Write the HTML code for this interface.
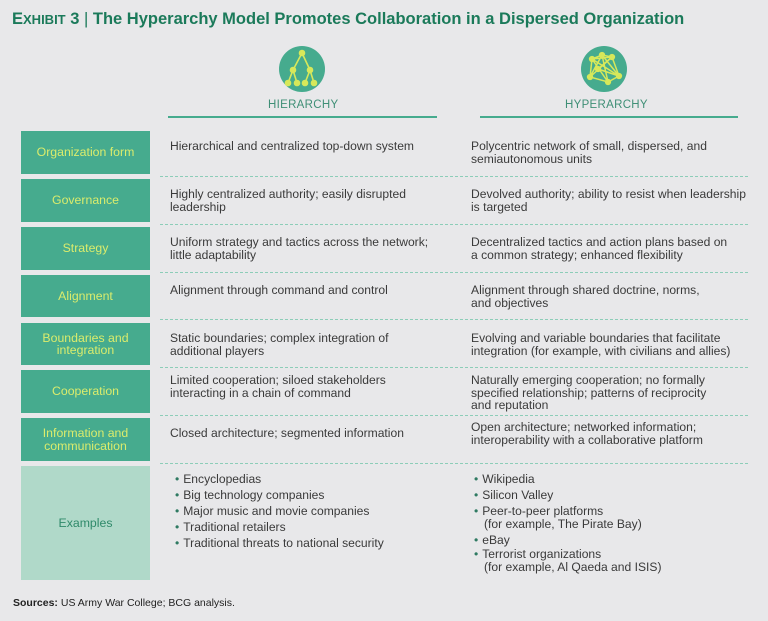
<!DOCTYPE html>
<html><head><meta charset="utf-8"><style>
body{margin:0;width:768px;height:621px;background:#e8e8ea;font-family:"Liberation Sans",sans-serif;position:relative;overflow:hidden}
.a{position:absolute;white-space:nowrap}
.t{font-size:12.1px;line-height:12.5px;color:#3a3a3a}
.box{position:absolute;left:21px;width:129px;background:#46ab8e;color:#dbec6c;font-size:12.3px;line-height:12.5px;text-align:center;display:flex;align-items:center;justify-content:center}
.d{position:absolute;left:160px;width:588px;border-top:1px dashed #8ccdb8}
.h{position:absolute;font-size:11.5px;color:#3f8f76;letter-spacing:0.3px}
ul{margin:0;padding:0;list-style:none}
li::before{content:"•";color:#2f7a62;margin-right:4px}
</style></head><body>
<div class="a" style="left:12px;top:10px;font-size:16.5px;font-weight:bold;color:#1b7a5a">E<span style="font-size:13px">XHIBIT</span> 3 <span style="font-weight:normal">|</span> The Hyperarchy Model Promotes Collaboration in a Dispersed Organization</div>
<svg class="a" style="left:278px;top:45px" width="48" height="48"><circle cx="24" cy="24" r="23" fill="#46ab8e"/>
<g stroke="#d7e85a" stroke-width="1.6" fill="#d7e85a"><line x1="24" y1="8" x2="15" y2="25"/><line x1="24" y1="8" x2="32" y2="25"/><line x1="15" y1="25" x2="10" y2="38"/><line x1="15" y1="25" x2="19" y2="38"/><line x1="32" y1="25" x2="27" y2="38"/><line x1="32" y1="25" x2="36" y2="38"/>
<circle cx="24" cy="8" r="2.5"/><circle cx="15" cy="25" r="2.5"/><circle cx="32" cy="25" r="2.5"/><circle cx="10" cy="38" r="2.5"/><circle cx="19" cy="38" r="2.5"/><circle cx="27" cy="38" r="2.5"/><circle cx="36" cy="38" r="2.5"/></g></svg>
<svg class="a" style="left:580px;top:45px" width="48" height="48"><circle cx="24" cy="24" r="23" fill="#46ab8e"/>
<g stroke="#d7e85a" stroke-width="1.5" fill="#d7e85a"><polyline points="12,14 22,10 32,12 39,31 28,37 10,32 12,14 32,12 10,32 22,10 39,31 12,14 28,37 22,10" fill="none"/><line x1="18" y1="24" x2="32" y2="12"/><line x1="18" y1="24" x2="39" y2="31"/>
<circle cx="12" cy="14" r="2.4"/><circle cx="22" cy="10" r="2.4"/><circle cx="32" cy="12" r="2.4"/><circle cx="39" cy="31" r="2.4"/><circle cx="28" cy="37" r="2.4"/><circle cx="10" cy="32" r="2.4"/><circle cx="18" cy="24" r="2.4"/></g></svg>
<div class="h" style="left:268px;top:99px">HIERARCHY</div>
<div class="h" style="left:565px;top:99px">HYPERARCHY</div>
<div class="a" style="left:168px;top:116px;width:269px;height:2px;background:#46ab8e"></div>
<div class="a" style="left:480px;top:116px;width:258px;height:2px;background:#46ab8e"></div>

<div class="box" style="top:131px;height:43px">Organization form</div>
<div class="box" style="top:179px;height:43px">Governance</div>
<div class="box" style="top:227px;height:43px">Strategy</div>
<div class="box" style="top:275px;height:42px">Alignment</div>
<div class="box" style="top:323px;height:42px">Boundaries and<br>integration</div>
<div class="box" style="top:370px;height:43px">Cooperation</div>
<div class="box" style="top:418px;height:43px">Information and<br>communication</div>
<div class="box" style="top:466px;height:114px;background:#b0d9c9;color:#2f8a6a">Examples</div>

<div class="d" style="top:176px"></div><div class="d" style="top:224px"></div><div class="d" style="top:272px"></div><div class="d" style="top:319px"></div><div class="d" style="top:367px"></div><div class="d" style="top:415px"></div><div class="d" style="top:463px"></div>

<div class="a t" style="left:170px;top:140px">Hierarchical and centralized top-down system</div>
<div class="a t" style="left:170px;top:188px">Highly centralized authority; easily disrupted<br>leadership</div>
<div class="a t" style="left:170px;top:236px">Uniform strategy and tactics across the network;<br>little adaptability</div>
<div class="a t" style="left:170px;top:284px">Alignment through command and control</div>
<div class="a t" style="left:170px;top:332px">Static boundaries; complex integration of<br>additional players</div>
<div class="a t" style="left:170px;top:374px">Limited cooperation; siloed stakeholders<br>interacting in a chain of command</div>
<div class="a t" style="left:170px;top:427px">Closed architecture; segmented information</div>
<ul class="a t" style="left:175px;top:471px;line-height:16px"><li>Encyclopedias</li><li>Big technology companies</li><li>Major music and movie companies</li><li>Traditional retailers</li><li>Traditional threats to national security</li></ul>

<div class="a t" style="left:471px;top:140px">Polycentric network of small, dispersed, and<br>semiautonomous units</div>
<div class="a t" style="left:471px;top:188px">Devolved authority; ability to resist when leadership<br>is targeted</div>
<div class="a t" style="left:471px;top:236px">Decentralized tactics and action plans based on<br>a common strategy; enhanced flexibility</div>
<div class="a t" style="left:471px;top:284px">Alignment through shared doctrine, norms,<br>and objectives</div>
<div class="a t" style="left:471px;top:332px">Evolving and variable boundaries that facilitate<br>integration (for example, with civilians and allies)</div>
<div class="a t" style="left:471px;top:374px">Naturally emerging cooperation; no formally<br>specified relationship; patterns of reciprocity<br>and reputation</div>
<div class="a t" style="left:471px;top:421px">Open architecture; networked information;<br>interoperability with a collaborative platform</div>
<ul class="a t" style="left:474px;top:471px;line-height:16px"><li>Wikipedia</li><li>Silicon Valley</li><li style="line-height:12.5px;margin-top:2px">Peer-to-peer platforms<br><span style="padding-left:10px">(for example, The Pirate Bay)</span></li><li style="margin-top:2px">eBay</li><li style="line-height:12.5px">Terrorist organizations<br><span style="padding-left:10px">(for example, Al Qaeda and ISIS)</span></li></ul>

<div class="a" style="left:13px;top:597px;font-size:10.5px;color:#222"><b>Sources:</b> US Army War College; BCG analysis.</div>
</body></html>
